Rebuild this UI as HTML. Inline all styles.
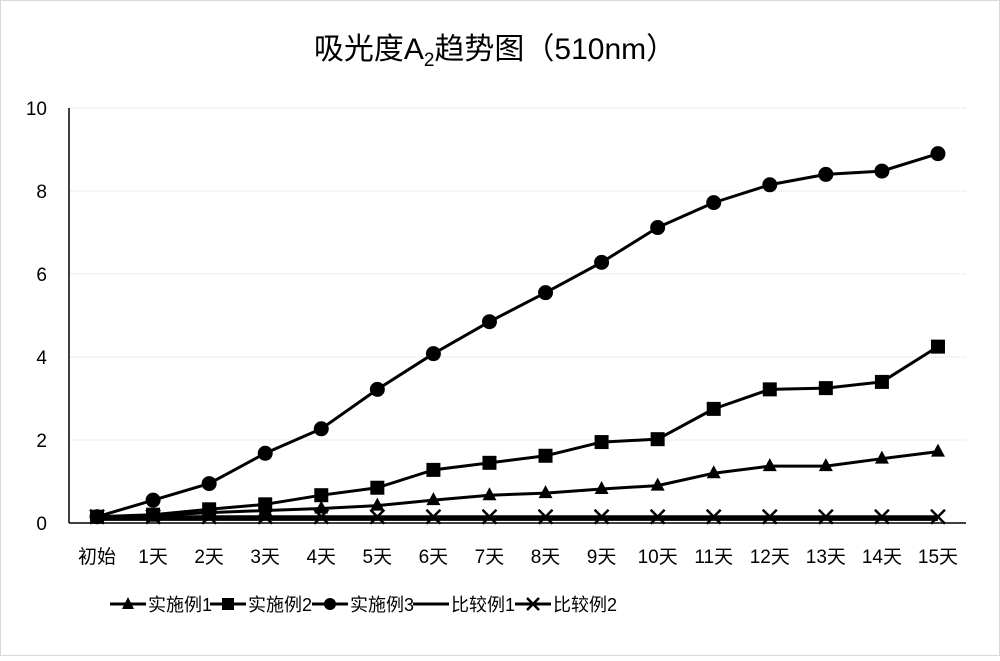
<!DOCTYPE html>
<html><head><meta charset="utf-8"><style>
body{margin:0;background:#fff;}
svg text{font-family:"Liberation Sans","Noto Sans CJK SC",sans-serif;fill:#000;}
</style></head><body>
<svg id="chart" width="1000" height="656" viewBox="0 0 1000 656" xmlns="http://www.w3.org/2000/svg">
<rect x="0.5" y="0.5" width="999" height="655" fill="#fff" stroke="#d9d9d9"/>
<text x="495" y="59" font-size="30" text-anchor="middle">吸光度A<tspan font-size="19" dy="7">2</tspan><tspan dy="-7">趋势图（510nm）</tspan></text>
<g id="grid"></g><g id="axes"></g><g id="series"></g>
<g id="legend"></g>
</svg>
<script>
const categories=["初始","1天","2天","3天","4天","5天","6天","7天","8天","9天","10天","11天","12天","13天","14天","15天"];
const yTicks=[0,2,4,6,8,10];
const s1=[0.15,0.18,0.25,0.30,0.35,0.42,0.55,0.67,0.72,0.82,0.90,1.20,1.37,1.37,1.55,1.72];
const s2=[0.15,0.20,0.33,0.45,0.67,0.85,1.28,1.45,1.62,1.95,2.02,2.75,3.22,3.25,3.40,4.25];
const s3=[0.15,0.55,0.95,1.68,2.27,3.22,4.08,4.85,5.55,6.28,7.12,7.72,8.15,8.40,8.48,8.90];
const c1=[0.10,0.10,0.10,0.10,0.10,0.10,0.10,0.10,0.10,0.10,0.10,0.10,0.10,0.10,0.10,0.10];
const c2=[0.15,0.15,0.15,0.15,0.15,0.15,0.15,0.15,0.15,0.15,0.15,0.15,0.15,0.15,0.15,0.15];
const seriesNames=["实施例1","实施例2","实施例3","比较例1","比较例2"];

const NS="http://www.w3.org/2000/svg";
const L=69,R=966,T=108,B=523,ymax=10;
const band=(R-L)/categories.length;
const xs=i=>L+band*(i+0.5);
const ys=v=>B-(v/ymax)*(B-T);
function mk(tag,attrs,parent){const e=document.createElementNS(NS,tag);for(const k in attrs)e.setAttribute(k,attrs[k]);parent.appendChild(e);return e;}
const grid=document.getElementById('grid'),axes=document.getElementById('axes'),ser=document.getElementById('series'),leg=document.getElementById('legend');
yTicks.forEach(t=>{
 if(t>0){const g=mk('line',{x1:L,x2:R,y1:ys(t),y2:ys(t),stroke:'#d8d8d8','stroke-width':1,'stroke-dasharray':'1 1'},grid);
 
 }
 const tx=mk('text',{x:47,y:ys(t)+7,'font-size':19,'text-anchor':'end'},axes);tx.textContent=t;
 
 
});
const ya=mk('line',{x1:L,x2:L,y1:T,y2:B,stroke:'#000','stroke-width':1.5},axes);


const xa=mk('line',{x1:L,x2:R,y1:B,y2:B,stroke:'#000','stroke-width':1.5},axes);


categories.forEach((c,i)=>{const tx=mk('text',{x:xs(i),y:563,'font-size':19,'text-anchor':'middle'},axes);tx.textContent=c;
 
 });

function marker(type,x,y,p){
 let e;
 if(type==='tri')e=mk('polygon',{points:`${x},${y-8} ${x-7},${y+5} ${x+7},${y+5}`,fill:'#000'},p);
 else if(type==='sq')e=mk('rect',{x:x-7,y:y-7,width:14,height:14,fill:'#000'},p);
 else if(type==='circ')e=mk('circle',{cx:x,cy:y,r:7.5,fill:'#000'},p);
 else if(type==='x')e=mk('path',{d:`M${x-7},${y-7}L${x+7},${y+7}M${x+7},${y-7}L${x-7},${y+7}`,stroke:'#000','stroke-width':2.5},p);
 else return;
 
 
}
const all=[[c1,'none',4],[c2,'x',3],[s1,'tri',3],[s2,'sq',3],[s3,'circ',3]];
const keys=['compare-1','compare-2','example-1','example-2','example-3'];
all.forEach(([d,m,w],k)=>{
 const g=mk('g',{},ser);
 
 
 const pl=mk('polyline',{points:d.map((v,i)=>xs(i)+','+ys(v)).join(' '),fill:'none',stroke:'#000','stroke-width':w,'stroke-linejoin':'round'},g);
 
 
 d.forEach((v,i)=>marker(m,xs(i),ys(v),g));
});
const legMarks=['tri','sq','circ','none','x'];
const legX=[110,210,312,413,515];
seriesNames.forEach((n,i)=>{
 const g=mk('g',{},leg);
 
 
 mk('line',{x1:legX[i],x2:legX[i]+36,y1:604,y2:604,stroke:'#000','stroke-width':3},g);
 if(legMarks[i]==='x'){mk('path',{d:`M${legX[i]+12},598L${legX[i]+24},610M${legX[i]+24},598L${legX[i]+12},610`,stroke:'#000','stroke-width':2.5},g);}
 else if(legMarks[i]==='tri')mk('polygon',{points:`${legX[i]+18},597 ${legX[i]+12},609 ${legX[i]+24},609`,fill:'#000'},g);
 else if(legMarks[i]==='sq')mk('rect',{x:legX[i]+12,y:598,width:12,height:12,fill:'#000'},g);
 else if(legMarks[i]==='circ')mk('circle',{cx:legX[i]+18,cy:604,r:6,fill:'#000'},g);
 const t=mk('text',{x:legX[i]+38,y:611,'font-size':18},g);t.textContent=n;
});
</script>
</body></html>
